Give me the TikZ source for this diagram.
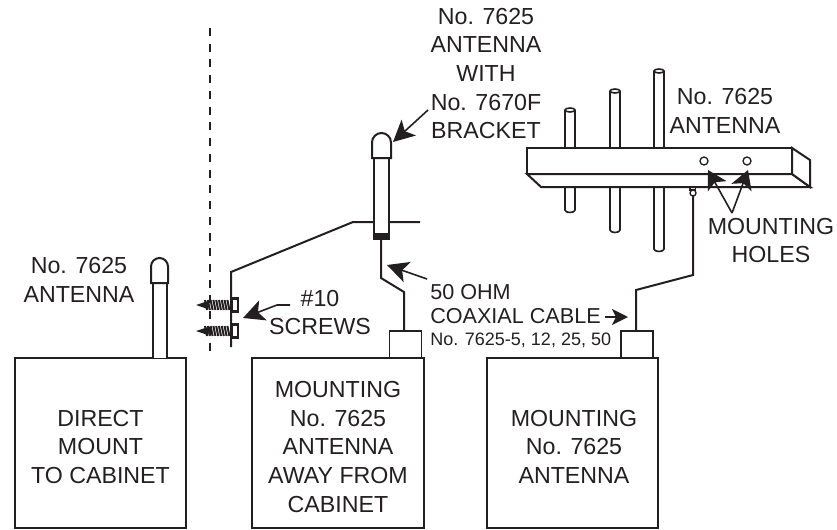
\documentclass[tikz,border=0pt]{standalone}
\usepackage{fontspec}
\setmainfont{Liberation Sans}
\usetikzlibrary{positioning}
\usetikzlibrary{arrows.meta}
\definecolor{inkline}{HTML}{231F20}
\tikzset{unitbox/.style = {draw, line width=1.5pt, minimum width=128.5pt, minimum height=127pt, inner sep=0pt},
         label/.style = {align=center, inner sep=0pt, font=\fontsize{17.4}{21.5}\selectfont},
         cablelabel/.style = {label, anchor=west, font=\fontsize{16.2}{20}\selectfont},
         fitting/.style = {draw, fill=white, line width=1.4pt, minimum width=24pt, minimum height=20pt, inner sep=0pt},
         wire/.style = {line width=1.5pt, line join=miter},
         rod/.style = {line width=1.2pt, fill=white},
         pointer/.style = {line width=1.2pt, -{Stealth[length=16pt, width=16pt, inset=4pt]}}}

\begin{document}
\begin{tikzpicture}[x=.75pt, y=-.75pt, color=inkline, text=inkline]
    \useasboundingbox (0, 0) rectangle (837, 529);
    % cabinets
    \node [unitbox] (directbox) at (100.5, 443) {};
    \node [unitbox] (awaybox) at (338, 443) {};
    \node [unitbox] (yagibox) at (572.5, 443) {};
    \node [label] (directtext) at (100.5, 446.7) {DIRECT\\MOUNT\\TO CABINET};
    \node [label] (awaytext) at (338, 446.7) {MOUNTING\\No. 7625\\ANTENNA\\AWAY FROM\\CABINET};
    \node [label] (yagitext) at (574, 446.7) {MOUNTING\\No. 7625\\ANTENNA};
    \node [fitting, anchor=south] (awayfit) at (405.5, 358.5) {};
    \node [fitting, anchor=south] (yagifit) at (637, 358.5) {};
    % direct antenna
    \draw [wire, fill=white] (153, 358) -- (153, 283) -- (167, 283) -- (167, 358);
    \draw [wire, fill=white] (151, 283) -- (151, 266.5) arc (180:360:8.5) -- (168, 283) -- cycle;
    % wall
    \draw [line width=1.6pt, dash pattern=on 6pt off 5.8pt] (210, 28) -- (210, 352);
    \draw [wire] (231, 347) -- (231, 272) -- (353, 222) -- (420, 222);
    % screws
    \foreach \y in {305, 331} {
      \fill (196, \y) -- (208, \y - 4) -- (208, \y + 4) -- cycle;
      \foreach \x in {205, 207.8, ..., 229}
        \draw [line width=1.5pt] (\x, \y - 5) -- (\x + 2, \y + 5);
      \fill (231, \y - 8) -- (239, \y - 8) -- (239, \y + 8) -- (231, \y + 8) -- cycle;
      \fill [white] (233, \y - 5) -- (236.5, \y - 5) -- (236.5, \y + 5) -- (233, \y + 5) -- cycle;
    }
    % antenna on bracket
    \draw [wire, fill=white] (374, 158) rectangle (389, 235);
    \draw [wire, fill=white] (372, 158) -- (372, 142.5) arc (180:360:9.5) -- (391, 158) -- cycle;
    \fill (373, 233) rectangle (390, 240);
    \coordinate (bandend) at (381, 240);
    \coordinate (awaybend) at (404, 292);
    \draw [wire] (bandend) -- (381, 278) -- (awaybend) -- (awaybend |- awayfit.north);
    % yagi elements
    \foreach \xa/\ytop/\ybot in {570/110/210, 615/91/230, 659/71/249} {
      \draw [rod] (\xa - 5, \ytop) -- (\xa - 5, \ybot) arc (180:0:5 and 2.5) -- (\xa + 5, \ytop);
      \draw [rod] (\xa, \ytop) ellipse (5 and 2);
    }
    % feed stub
    \draw [line width=1pt, fill=white] (690, 174) -- (690, 190) -- (695.5, 190) -- (695.5, 174);
    \draw [line width=1pt, fill=white] (693, 193) circle (3);
    \coordinate (stubend) at (693, 196);
    \coordinate (yagibend) at (636, 290);
    \draw [wire] (stubend) -- (693, 275) -- (yagibend) -- (yagibend |- yagifit.north);
    % beam
    \draw [wire, fill=white] (527, 174) -- (541, 187) -- (810, 187) -- (792, 174) -- cycle;
    \draw [wire, fill=white] (792, 148) -- (810, 160) -- (810, 187) -- (792, 174) -- cycle;
    \draw [wire, fill=white] (527, 148) rectangle (792, 174);
    \draw [line width=1pt] (704, 161) circle (4);
    \draw [line width=1pt] (747, 161) circle (4);
    % labels
    \node [label] (directlabel) at (79, 280) {No. 7625\\ANTENNA};
    \node [label] (bracketlabel) at (486, 73.5) {No. 7625\\ANTENNA\\WITH\\No. 7670F\\BRACKET};
    \node [label] (yagilabel) at (725, 111) {No. 7625\\ANTENNA};
    \node [label] (holeslabel) at (771, 240.5) {MOUNTING\\HOLES};
    \node [label] (screwlabel) at (320, 312.5) {\#10\\SCREWS};
    \node [cablelabel] (ohmlabel) at (430, 292) {50 OHM};
    \node [cablelabel] (coaxlabel) at (430, 316) {COAXIAL CABLE};
    \node [cablelabel, font=\fontsize{13.5}{16}\selectfont] (partlabel) at (430, 340) {No. 7625-5, 12, 25, 50};
    % pointers
    \coordinate (bracketfrom) at (428, 110);
    \coordinate (screwfrom) at (290, 305);
    \coordinate (ohmfrom) at (427, 279);
    \coordinate (coaxfrom) at (605, 317);
    \coordinate (holeapex) at (732, 213);
    \draw [pointer] (bracketfrom) -- (393, 142);
    \draw [pointer] (screwfrom) -- (277, 305) -- (243, 318);
    \draw [pointer] (ohmfrom) -- (387, 265);
    \draw [pointer, -{Stealth[length=12pt, width=12pt, inset=3pt]}] (coaxfrom) -- (628, 317);
    \draw [pointer, -{Stealth[length=14pt, width=16pt, inset=3.5pt]}] (holeapex) -- (708, 170);
    \draw [pointer, -{Stealth[length=14pt, width=16pt, inset=3.5pt]}] (holeapex) -- (748, 170);
\end{tikzpicture}
\end{document}
